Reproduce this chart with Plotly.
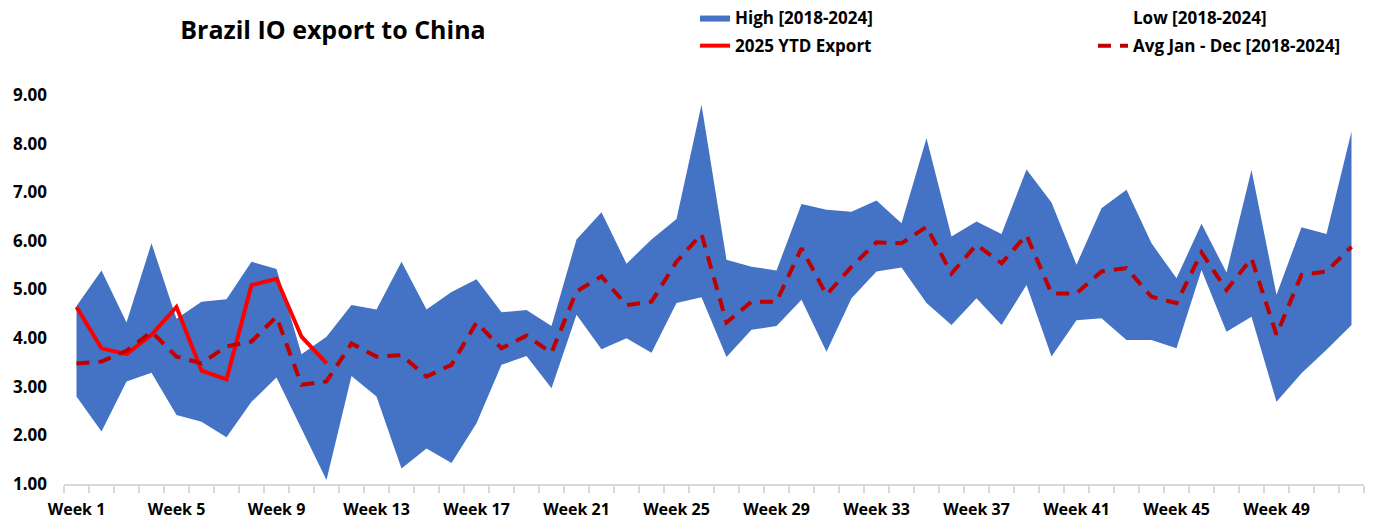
import plotly.graph_objects as go

weeks = list(range(1, 53))

high = [4.66, 5.39, 4.32, 5.95, 4.40, 4.75, 4.80, 5.57, 5.42, 3.67,
        4.03, 4.68, 4.59, 5.57, 4.59, 4.95, 5.21, 4.53, 4.58, 4.25,
        6.03, 6.59, 5.53, 6.03, 6.45, 8.80, 5.61, 5.47, 5.39, 6.76,
        6.64, 6.60, 6.83, 6.36, 8.11, 6.09, 6.40, 6.14, 7.47, 6.79,
        5.51, 6.67, 7.05, 5.95, 5.23, 6.35, 5.35, 7.46, 4.89, 6.28,
        6.14, 8.25]

low = [2.80, 2.08, 3.11, 3.29, 2.42, 2.28, 1.96, 2.69, 3.19, 2.15,
       1.08, 3.22, 2.80, 1.32, 1.73, 1.43, 2.25, 3.45, 3.63, 2.97,
       4.48, 3.77, 4.00, 3.70, 4.72, 4.84, 3.61, 4.17, 4.25, 4.79,
       3.72, 4.82, 5.37, 5.45, 4.72, 4.27, 4.82, 4.27, 5.09, 3.62,
       4.37, 4.41, 3.96, 3.96, 3.79, 5.40, 4.13, 4.44, 2.69, 3.28,
       3.76, 4.27]

avg = [3.48, 3.52, 3.74, 4.13, 3.62, 3.48, 3.83, 3.93, 4.44, 3.04,
       3.11, 3.89, 3.62, 3.65, 3.21, 3.45, 4.32, 3.79, 4.05, 3.70,
       4.96, 5.27, 4.68, 4.75, 5.57, 6.14, 4.32, 4.75, 4.75, 5.85,
       4.89, 5.47, 5.97, 5.95, 6.29, 5.33, 5.92, 5.54, 6.12, 4.92,
       4.92, 5.37, 5.44, 4.85, 4.72, 5.76, 4.99, 5.64, 4.07, 5.30,
       5.37, 5.88]

ytd_2025 = [4.64, 3.79, 3.67, 4.07, 4.64, 3.33, 3.15, 5.09, 5.22, 4.03, 3.48]

label_weeks = list(range(1, 53, 4))
label_text = [f"Week {w}" for w in label_weeks]
y_ticks = [1, 2, 3, 4, 5, 6, 7, 8, 9]

FONT = "'Open Sans', Lato, sans-serif"
BLUE = "#4472C4"

fig = go.Figure()

# lower edge of the band (invisible, only sets the base of the fill)
fig.add_trace(go.Scatter(
    x=weeks, y=low, name="Low [2018-2024]", mode="lines",
    line=dict(width=0, color="rgba(255,255,255,0)"),
    legend="legend2", legendgroup="low", hoverinfo="skip"))

# upper edge, filled down to the low series
fig.add_trace(go.Scatter(
    x=weeks, y=high, name="High [2018-2024]", mode="lines",
    line=dict(width=0, color=BLUE), fill="tonexty", fillcolor=BLUE,
    legend="legend", legendgroup="high"))

fig.add_trace(go.Scatter(
    x=weeks[:len(ytd_2025)], y=ytd_2025, name="2025 YTD Export", mode="lines",
    line=dict(width=4, color="#FF0000"),
    legend="legend", legendgroup="ytd"))

fig.add_trace(go.Scatter(
    x=weeks, y=avg, name="Avg Jan - Dec [2018-2024]", mode="lines",
    line=dict(width=4, color="#C00000", dash="13px,9px"),
    legend="legend2", legendgroup="avg"))

legend_common = dict(
    font=dict(family=FONT, size=17, color="#000000", weight="bold"),
    bgcolor="rgba(0,0,0,0)", borderwidth=0, orientation="v",
    traceorder="grouped", tracegroupgap=3,
    xref="container", yref="container", xanchor="left", yanchor="top",
    itemwidth=30)

fig.update_layout(
    width=1373, height=524,
    margin=dict(l=64, r=9, t=95, b=40, autoexpand=False),
    paper_bgcolor="white", plot_bgcolor="white",
    font=dict(family=FONT, color="#000000"),
    title=dict(text="<b>Brazil IO export to China</b>",
               font=dict(family=FONT, size=25, color="#000000"),
               x=333 / 1373, xanchor="center", y=1 - 30 / 524, yanchor="middle",
               xref="container", yref="container"),
    legend=dict(x=695 / 1373, y=1 - 0 / 524, **legend_common),
    legend2=dict(x=1093 / 1373, y=1 - 0 / 524, **legend_common),
    xaxis=dict(
        range=[0.5, 52.5], tickmode="array", tickvals=label_weeks, ticktext=label_text,
        ticks="", showgrid=False, zeroline=False, tickangle=0, automargin=False,
        showline=True, linecolor="#D9D9D9", linewidth=1.5,
        tickfont=dict(family=FONT, size=16, color="#000000", weight="bold"),
        ticklabelstandoff=10,
        minor=dict(tickmode="array", tickvals=[w - 0.5 for w in weeks] + [52.5],
                   ticks="outside", ticklen=7, tickcolor="#D9D9D9", tickwidth=1.5,
                   showgrid=False)),
    yaxis=dict(
        range=[1, 9], tickmode="array", tickvals=y_ticks,
        ticktext=[f"{v:.2f}" for v in y_ticks], automargin=False,
        ticks="", showgrid=False, zeroline=False, showline=False,
        tickfont=dict(family=FONT, size=17, color="#000000", weight="bold"),
        ticklabelstandoff=16),
)

fig.write_html("out.html")
